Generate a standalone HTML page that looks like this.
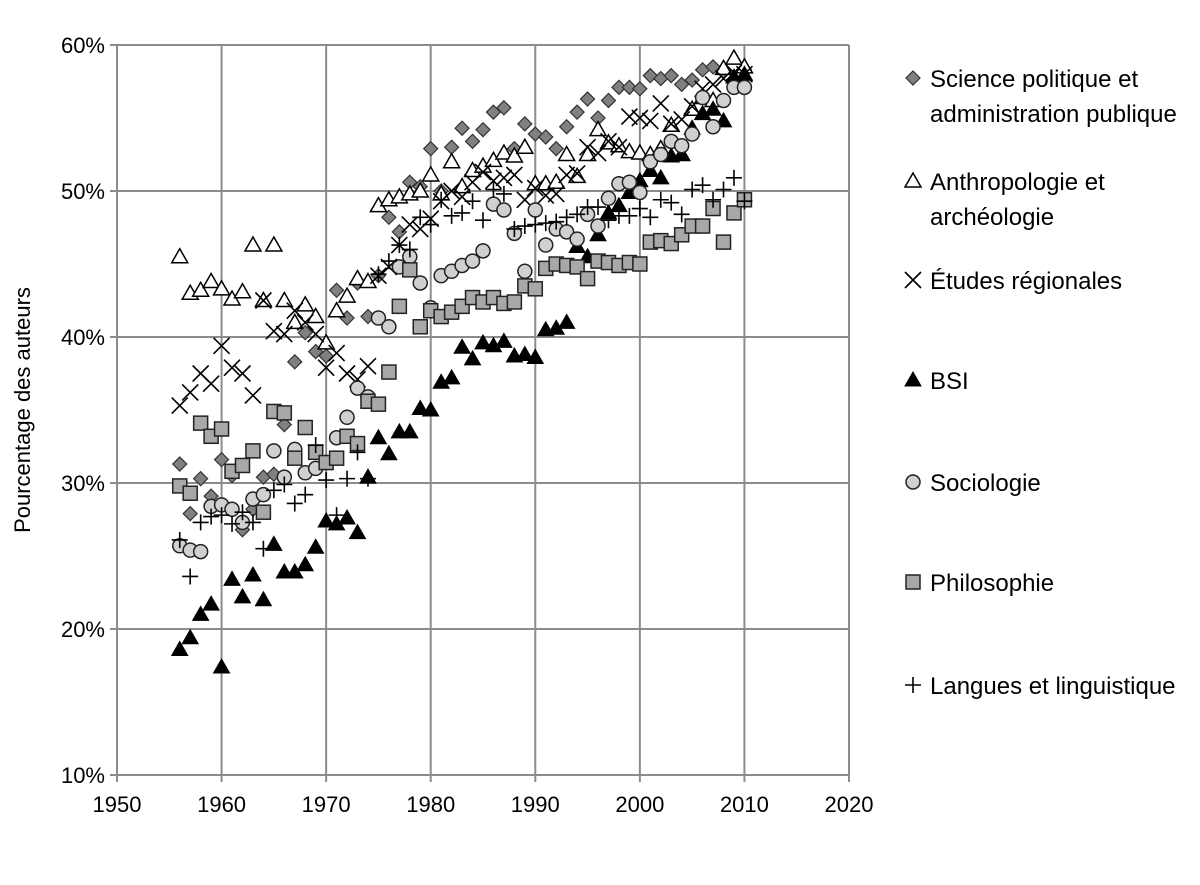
<!DOCTYPE html>
<html><head><meta charset="utf-8"><style>
body{margin:0;background:#fff;}
svg text{font-family:"Liberation Sans",Arial,sans-serif;fill:#000;}
</style></head><body>
<svg id="chart" width="1200" height="880" xmlns="http://www.w3.org/2000/svg"></svg>
<script>
const years = [];
for (let y = 1956; y <= 2010; y++) years.push(y);
const xTicks = [1950,1960,1970,1980,1990,2000,2010,2020];
const yTicks = [10,20,30,40,50,60];
const sciPol = [31.3,27.9,30.3,29.1,31.6,30.5,26.8,28.2,30.4,30.6,34,38.3,40.3,39,38.7,43.2,41.3,43.7,41.4,44.2,48.2,47.2,50.6,50.3,52.9,50,53,54.3,53.4,54.2,55.4,55.7,52.9,54.6,53.9,53.7,52.9,54.4,55.4,56.3,55,56.2,57.1,57.1,57,57.9,57.7,57.9,57.3,57.6,58.3,58.5,58.2,57.6,58.3];
const anthro = [45.5,43,43.2,43.8,43.3,42.6,43.1,46.3,42.5,46.3,42.5,41,42.2,41.4,39.6,41.8,42.8,44,43.8,49,49.4,49.6,49.8,50,51.1,49.8,52,50.3,51.4,51.7,52.1,52.6,52.4,53,50.5,50.5,50.6,52.5,51,52.5,54.2,53.3,53.1,52.7,52.6,52.5,52.9,54.5,52.5,55.6,56.4,56.2,58.4,59.1,58.5];
const etudes = [35.3,36.2,37.5,36.8,39.4,37.9,37.5,36,42.5,40.4,40.2,41.8,41,40.2,37.9,38.9,37.5,37.1,38,44.2,44.8,46.3,47.7,47.4,48.1,49.3,50,49.6,50.6,51.3,50.7,50.9,51.1,49.4,50.2,49.7,49.8,51.1,51.2,53,52.6,53.4,53,55.1,55,54.8,56,54.6,54.9,55.8,57,57.3,57.7,58.1,58];
const bsi = [18.6,19.4,21,21.7,17.4,23.4,22.2,23.7,22,25.8,23.9,23.9,24.4,25.6,27.4,27.2,27.6,26.6,30.4,33.1,32,33.5,33.5,35.1,35,36.9,37.2,39.3,38.5,39.6,39.4,39.7,38.7,38.8,38.6,40.5,40.6,41,46.2,45.5,47,48.5,49,49.9,50.7,51.4,50.9,52.4,52.5,54.3,55.3,55.6,54.8,57.8,58];
const socio = [25.7,25.4,25.3,28.4,28.5,28.2,27.3,28.9,29.2,32.2,30.4,32.3,30.7,31,31.4,33.1,34.5,36.5,35.9,41.3,40.7,44.8,45.5,43.7,42,44.2,44.5,44.9,45.2,45.9,49.1,48.7,47.1,44.5,48.7,46.3,47.4,47.2,46.7,48.4,47.6,49.5,50.5,50.6,49.9,52,52.5,53.4,53.1,53.9,56.4,54.4,56.2,57.1,57.1];
const philo = [29.8,29.3,34.1,33.2,33.7,30.8,31.2,32.2,28,34.9,34.8,31.7,33.8,32.1,31.4,31.7,33.2,32.7,35.6,35.4,37.6,42.1,44.6,40.7,41.8,41.4,41.7,42.1,42.7,42.4,42.7,42.3,42.4,43.5,43.3,44.7,45,44.9,44.8,44,45.2,45.1,44.9,45.1,45,46.5,46.6,46.4,47,47.6,47.6,48.8,46.5,48.5,49.4];
const langues = [26.1,23.6,27.3,27.7,27.8,27.2,28,27.3,25.5,29.5,29.9,28.6,29.2,32.6,30.2,27.8,30.3,32.1,30.3,44.3,45.2,46.3,46,48.2,47.7,49.4,48.3,48.5,49.3,48,50.1,49.8,47.4,47.6,47.7,47.8,47.9,48.2,48.4,48.9,48.9,48,48.3,48.3,48.8,48.2,49.4,49.2,48.4,50.1,50.4,49.4,50.1,50.9,49.3];

const NS='http://www.w3.org/2000/svg';
const svg=document.getElementById('chart');
const X0=117,X1=849,Y0=775,Y1=45;
const xs=v=>X0+(v-1950)/70*(X1-X0);
const ys=v=>Y0-(v-10)/50*(Y0-Y1);
function mk(t,a,p){const e=document.createElementNS(NS,t);for(const k in a)e.setAttribute(k,a[k]);(p||svg).appendChild(e);return e;}

const grid=mk('g',{});


xTicks.forEach(t=>mk('line',{x1:xs(t),x2:xs(t),y1:Y1,y2:Y0,stroke:'#8c8c8c','stroke-width':2},grid));
yTicks.forEach(t=>mk('line',{x1:X0,x2:X1,y1:ys(t),y2:ys(t),stroke:'#8c8c8c','stroke-width':2},grid));
xTicks.forEach(t=>{mk('line',{x1:xs(t),x2:xs(t),y1:Y0,y2:Y0+7,stroke:'#8c8c8c','stroke-width':2},grid);
 const tx=mk('text',{x:xs(t),y:Y0+37,'text-anchor':'middle','font-size':22});tx.textContent=t;
 });
yTicks.forEach(t=>{mk('line',{x1:X0-7,x2:X0,y1:ys(t),y2:ys(t),stroke:'#8c8c8c','stroke-width':2},grid);
 const tx=mk('text',{x:X0-12,y:ys(t)+8,'text-anchor':'end','font-size':22});tx.textContent=t+'%';
 });
const yt=mk('text',{x:0,y:0,'text-anchor':'middle','font-size':22,transform:'translate(30,410) rotate(-90)'});
yt.textContent='Pourcentage des auteurs';


function marker(kind,x,y,p){
 const s='#000';
 if(kind==='diamond') return mk('polygon',{points:`${x},${y-7} ${x+7},${y} ${x},${y+7} ${x-7},${y}`,fill:'#808080',stroke:'#333','stroke-width':1.2},p);
 if(kind==='otri') return mk('polygon',{points:`${x},${y-8} ${x+8},${y+6} ${x-8},${y+6}`,fill:'#fff',stroke:s,'stroke-width':1.5},p);
 if(kind==='ftri') return mk('polygon',{points:`${x},${y-8} ${x+8},${y+6} ${x-8},${y+6}`,fill:'#000',stroke:s,'stroke-width':1},p);
 if(kind==='x') return mk('path',{d:`M${x-8},${y-8}L${x+8},${y+8}M${x+8},${y-8}L${x-8},${y+8}`,stroke:s,'stroke-width':1.6,fill:'none'},p);
 if(kind==='circle') return mk('circle',{cx:x,cy:y,r:7,fill:'#d0d0d0',stroke:'#222','stroke-width':1.5},p);
 if(kind==='square') return mk('rect',{x:x-7,y:y-7,width:14,height:14,fill:'#a8a8a8',stroke:'#222','stroke-width':1.5},p);
 if(kind==='plus') return mk('path',{d:`M${x-8},${y}L${x+8},${y}M${x},${y-8}L${x},${y+8}`,stroke:s,'stroke-width':1.6,fill:'none'},p);
}
const series=[
 {name:'sci-pol',kind:'diamond',data:sciPol,label:['Science politique et','administration publique'],ly:78},
 {name:'anthropologie',kind:'otri',data:anthro,label:['Anthropologie et','archéologie'],ly:181},
 {name:'etudes-regionales',kind:'x',data:etudes,label:['Études régionales'],ly:280},
 {name:'bsi',kind:'ftri',data:bsi,label:['BSI'],ly:380},
 {name:'sociologie',kind:'circle',data:socio,label:['Sociologie'],ly:482},
 {name:'philosophie',kind:'square',data:philo,label:['Philosophie'],ly:582},
 {name:'langues',kind:'plus',data:langues,label:['Langues et linguistique'],ly:685},
];
series.forEach(sr=>{
 const g=mk('g',{});
 
 
 sr.data.forEach((v,i)=>{const m=marker(sr.kind,xs(years[i]),ys(v),g);
  
  });
 const lg=mk('g',{});
 
 
 marker(sr.kind,913,sr.ly,lg);
 sr.label.forEach((t,j)=>{const tx=mk('text',{x:930,y:sr.ly+9+j*35,'font-size':24},lg);tx.textContent=t;});
});
</script>
</body></html>
